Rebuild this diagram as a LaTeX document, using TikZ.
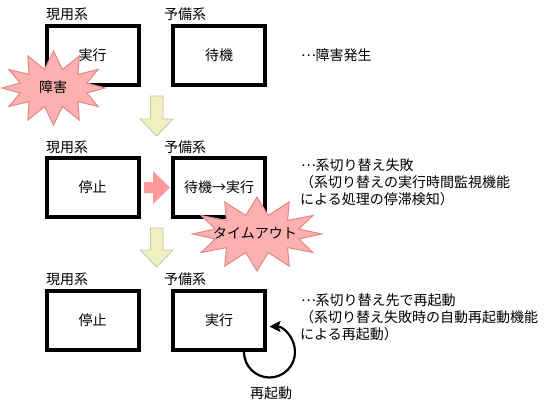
\documentclass[tikz,border=0pt]{standalone}
\usepackage{fontspec}
\setmainfont{Noto Sans CJK JP}
\usetikzlibrary{arrows.meta}
\definecolor{burstfill}{HTML}{FFB0B0}
\definecolor{burstedge}{HTML}{E08888}
\definecolor{arrowfill}{HTML}{F0F0C0}
\definecolor{arrowedge}{HTML}{C4C4A8}
\definecolor{pinkarrow}{HTML}{FF9999}
\tikzset{
  sysbox/.style={draw=black,line width=4pt,fill=white,minimum width=92pt,minimum height=59pt,inner sep=0pt,font=\fontsize{14pt}{17pt}\selectfont,anchor=center},
  lbl/.style={font=\fontsize{14pt}{17pt}\selectfont,inner sep=0pt},
  note/.style={font=\fontsize{14pt}{17pt}\selectfont,inner sep=0pt,anchor=north west,align=left,execute at begin node={\lineskiplimit=-20pt}},
  burst/.style={fill=burstfill,draw=burstedge,line width=1pt},
  downarrow/.style={draw=arrowedge,fill=arrowfill,line width=.8pt},
}
\newcommand{\midots}{\makebox[15.5pt][l]{\hspace{1pt}\raisebox{4.5pt}{…}}}
\newcommand{\burstshape}[4]{% cx cy rx ry
  \draw[burst]
    plot[samples at={0,15,...,345}] ({#1+#3*cos(\x)*(mod(\x,30)==0?1:.67)},{#2+#4*sin(\x)*(mod(\x,30)==0?1:.52)}) -- cycle;
}
\begin{document}
\begin{tikzpicture}[x=1pt,y=-1pt]
\useasboundingbox (0,0) rectangle (545,404);
\node[sysbox] (a1) at (92.5,55.5) {\raisebox{.5pt}{実行}};
\node[sysbox] (b1) at (219,55.5) {\raisebox{.5pt}{待機}};
\node[sysbox] (a2) at (92.5,187) {停止};
\node[sysbox] (b2) at (219,187) {待機→実行};
\node[sysbox] (a3) at (92.5,320) {停止};
\node[sysbox] (b3) at (219,320) {実行};
\foreach \y/\n in {14/1,147/2,279/3}{
  \node[lbl] (ga\n) at (67,\y) {現用系};
  \node[lbl] (gb\n) at (185,\y) {予備系};
}
\burstshape{53.5}{88}{51.5}{37}
\node[lbl] (f1) at (53,87) {障害};
\burstshape{257}{234}{64.5}{37}
\node[lbl] (f2) at (255,233) {タイムアウト};
\draw[downarrow] (150.5,96) -- (163,96) -- (163,119) -- (173,119) -- (156.7,136) -- (140,119) -- (150.5,119) -- cycle;
\draw[downarrow] (150.5,228) -- (163,228) -- (163,250) -- (173,250) -- (156.7,267) -- (140,250) -- (150.5,250) -- cycle;
\fill[pinkarrow] (144,182) -- (153,182) -- (153,171) -- (170,187.5) -- (153,204) -- (153,193) -- (144,193) -- cycle;
\coordinate (loopstart) at (244,352);
\draw[line width=2.2pt,-{Stealth[length=11pt,width=11pt,inset=2pt]}] (loopstart) arc[start angle=180,end angle=-90,radius=25.5];
\node[lbl] (r) at (271,393) {再起動};
\node[note] (n1) at (300,49) {\midots{}障害発生};
\node[note] (n2) at (300,159) {\midots{}系切り替え失敗\\（系切り替えの実行時間監視機能\\による処理の停滞検知）};
\node[note] (n3) at (300,294) {\midots{}系切り替え先で再起動\\（系切り替え失敗時の自動再起動機能\\による再起動）};
\end{tikzpicture}
\end{document}
